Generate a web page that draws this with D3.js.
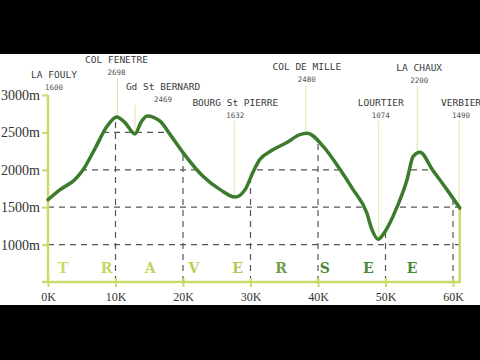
<!DOCTYPE html>
<html>
<head>
  <meta charset="utf-8">
  <title>Traversee profile</title>
  <script src="https://d3js.org/d3.v7.min.js"></script>
  <style>
    body { margin: 0; background: #000; }
  </style>
</head>
<body>
  <div id="chart"></div>
  <script>
// profile of the route, km along and altitude in metres
const distKm = [0, 1.8, 4, 5.2, 7, 8.7, 10.2, 11.4, 12.9, 13.8, 14.7, 16.6, 18.1, 20, 23, 25.5, 27.7,
  29.2, 30.4, 31.4, 32.9, 35.4, 37.3, 38.4, 40.8, 43.3, 45.2, 47.2, 48, 48.9, 49.9, 51.7, 53.2,
  54.1, 55.1, 57, 59.1, 61];
const altitude = [1600, 1735, 1870, 2000, 2290, 2575, 2705, 2630, 2480, 2640, 2720, 2650, 2470, 2230,
  1910, 1735, 1635, 1735, 1975, 2140, 2245, 2365, 2470, 2490, 2310, 2000, 1735, 1430, 1200, 1070,
  1170, 1500, 1870, 2180, 2235, 1995, 1735, 1490];

// named places
const placeNames = ["LA FOULY", "COL FENETRE", "Gd St BERNARD", "BOURG St PIERRE", "COL DE MILLE",
  "LOURTIER", "LA CHAUX", "VERBIER"];
const placeKm = [0, 10.3, 12.9, 27.6, 38.2, 49, 54.7, 60.9];
const placeAlt = [1600, 2698, 2469, 1632, 2480, 1074, 2200, 1490];

const yTicks = [1000, 1500, 2000, 2500, 3000];
const xTicks = [0, 10, 20, 30, 40, 50, 60];
const word = ["T", "R", "A", "V", "E", "R", "S", "E", "E"];

// label layout (y of name, horizontal shift)
const labelY = [78, 63, 90, 106, 70, 106, 71, 106];
const labelDx = [6, -1, 28, 1, 1, 2, 2, 2];
const wordColors = ["#cad96a", "#c6d663", "#c3d45e", "#bcd058", "#b2ca55", "#6f9d45", "#4e8a3c", "#4b893b", "#4b893b"];

const W = 480, H = 360;
const svg = d3.select("#chart").append("svg")
  .attr("width", W).attr("height", H);

svg.append("rect").attr("width", W).attr("height", H).attr("fill", "#000");
svg.append("rect").attr("x", 0).attr("y", 54).attr("width", W).attr("height", 251).attr("fill", "#fff");

const x = d3.scaleLinear().domain([0, 60]).range([48, 453]);
const y = d3.scaleLinear().domain([500, 3000]).range([282, 95]);

const pts = distKm.map((d, i) => [d, altitude[i]]);
const axisCol = "#c9db6b";
const curve = d3.curveMonotoneX;

// area under the profile, used to clip the dashed grid
const area = d3.area().x(d => x(d[0])).y0(y(500)).y1(d => y(d[1])).curve(curve);
svg.append("clipPath").attr("id", "under")
  .append("path").attr("d", area(pts));

const grid = svg.append("g").attr("clip-path", "url(#under)")
  .attr("stroke", "#555").attr("stroke-width", 1.2).attr("stroke-dasharray", "6,5");
grid.selectAll("line.h").data(yTicks.filter(d => d < 3000)).join("line")
  .attr("x1", x(0)).attr("x2", x(61)).attr("y1", d => y(d)).attr("y2", d => y(d));
grid.selectAll("line.v").data(xTicks.filter(d => d > 0)).join("line")
  .attr("x1", d => x(d)).attr("x2", d => x(d)).attr("y1", y(500)).attr("y2", y(3000));

// marker lines from labels down to the profile
svg.append("g").selectAll("line").data(placeKm.slice(1)).join("line")
  .attr("x1", d => x(d)).attr("x2", d => x(d))
  .attr("y1", (d, i) => labelY[i + 1] + 15)
  .attr("y2", (d, i) => y(placeAlt[i + 1]))
  .attr("stroke", "#dfe6a6").attr("stroke-width", 1);

// word along the bottom
const wx = d3.scalePoint().domain(d3.range(word.length)).range([63, 412]);
svg.append("g").selectAll("text").data(word).join("text")
  .attr("x", (d, i) => wx(i)).attr("y", 273)
  .attr("text-anchor", "middle")
  .attr("font-family", "'DejaVu Serif', serif").attr("font-weight", "bold")
  .attr("font-size", 14)
  .attr("fill", (d, i) => wordColors[i])
  .text(d => d);

// axes
const yAxis = svg.append("g").attr("transform", `translate(${x(0)},0)`)
  .call(d3.axisLeft(y).tickValues(yTicks).tickFormat(d => d + "m").tickSize(6).tickPadding(2));
const xAxis = svg.append("g").attr("transform", `translate(0,${y(500)})`)
  .call(d3.axisBottom(x).tickValues(xTicks).tickFormat(d => d + "K").tickSize(5).tickPadding(5));
[yAxis, xAxis].forEach(a => {
  a.select(".domain").remove();
  a.selectAll(".tick line").attr("stroke", axisCol).attr("stroke-width", 2);
  a.selectAll("text").attr("fill", "#333").attr("font-family", "'Liberation Serif', serif");
});
yAxis.selectAll("text").attr("font-size", 14);
xAxis.selectAll("text").attr("font-size", 12);
xAxis.selectAll(".tick line").attr("y1", -4);

svg.append("line").attr("x1", x(0)).attr("x2", x(0)).attr("y1", y(3000)).attr("y2", y(500) + 1)
  .attr("stroke", axisCol).attr("stroke-width", 2.5);
svg.append("line").attr("x1", 42).attr("x2", x(61.2)).attr("y1", y(500)).attr("y2", y(500))
  .attr("stroke", axisCol).attr("stroke-width", 2.5);
svg.append("line").attr("x1", x(61)).attr("x2", x(61)).attr("y1", y(1490)).attr("y2", y(500))
  .attr("stroke", axisCol).attr("stroke-width", 2.5);

// profile line
const line = d3.line().x(d => x(d[0])).y(d => y(d[1])).curve(curve);
svg.append("path").attr("d", line(pts))
  .attr("fill", "none").attr("stroke", "#3c7a2c").attr("stroke-width", 3.5)
  .attr("stroke-linejoin", "round").attr("stroke-linecap", "round");

// place labels
const lab = svg.append("g").attr("font-family", "'DejaVu Sans Mono', monospace").attr("fill", "#3a3a3a")
  .attr("text-anchor", "middle");
lab.selectAll("text.name").data(placeNames).join("text").attr("class", "name")
  .attr("x", (d, i) => x(placeKm[i]) + labelDx[i]).attr("y", (d, i) => labelY[i])
  .attr("font-size", 9.5).text(d => d);
lab.selectAll("text.alt").data(placeAlt).join("text").attr("class", "alt")
  .attr("x", (d, i) => x(placeKm[i]) + labelDx[i]).attr("y", (d, i) => labelY[i] + 12)
  .attr("font-size", 7.5).attr("fill", "#555").text(d => d);
  </script>
</body>
</html>
